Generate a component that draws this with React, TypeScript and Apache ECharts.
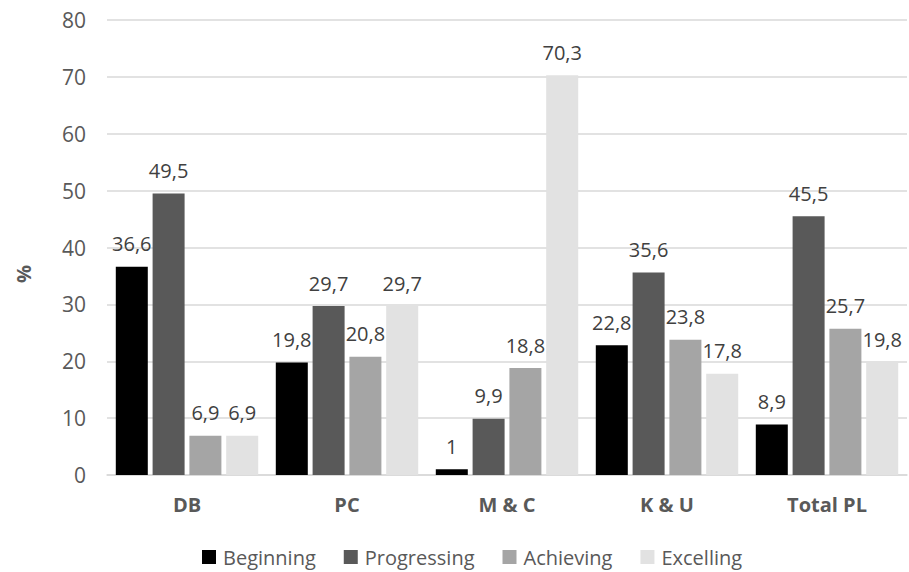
import React, { useEffect, useRef } from "react";
import * as echarts from "echarts";

const categories = ["DB", "PC", "M & C", "K & U", "Total PL"];
const beginning = [36.6, 19.8, 1, 22.8, 8.9];
const progressing = [49.5, 29.7, 9.9, 35.6, 45.5];
const achieving = [6.9, 20.8, 18.8, 23.8, 25.7];
const excelling = [6.9, 29.7, 70.3, 17.8, 19.8];
const seriesNames = ["Beginning", "Progressing", "Achieving", "Excelling"];
const seriesColors = ["#000000", "#595959", "#a5a5a5", "#e2e2e2"];

const FONT = "'Open Sans', 'Noto Sans', sans-serif";

export default function App() {
  const ref = useRef<HTMLDivElement>(null);
  useEffect(() => {
    if (!ref.current) return;
    const chart = echarts.init(ref.current, undefined, { renderer: "svg" });
    const data = [beginning, progressing, achieving, excelling];
    chart.setOption({
      animation: false,
      textStyle: { fontFamily: FONT },
      grid: { left: 107, right: 2, top: 20, bottom: 97, containLabel: false },
      legend: {
        left: 197,
        top: 542,
        itemWidth: 14,
        itemHeight: 14,
        itemGap: 28,
        icon: "rect",
        textStyle: { fontFamily: FONT, fontSize: 20, color: "#595959", padding: [0, 0, 0, 2] },
        data: seriesNames,
      },
      graphic: [
        {
          type: "text",
          x: 23,
          y: 274,
          rotation: Math.PI / 2,
          style: {
            text: "%",
            fontFamily: FONT,
            fontSize: 20,
            fontWeight: "bold",
            fill: "#595959",
            align: "center",
            verticalAlign: "middle",
          },
        },
      ],
      xAxis: {
        type: "category",
        data: categories,
        axisLine: { show: true, lineStyle: { color: "#d9d9d9", width: 1.5 } },
        axisTick: { show: false },
        axisLabel: { fontFamily: FONT, fontSize: 20, fontWeight: "bold", color: "#595959", margin: 19 },
      },
      yAxis: {
        type: "value",
        min: 0,
        max: 80,
        interval: 10,
        axisLine: { show: false },
        axisTick: { show: false },
        axisLabel: { fontFamily: FONT, fontSize: 21, color: "#595959", margin: 21 },
        splitLine: { lineStyle: { color: "#d9d9d9", width: 1.5 } },
      },
      series: seriesNames.map((name, i) => ({
        name,
        type: "bar",
        data: data[i],
        barGap: "15%",
        barCategoryGap: "11%",
        itemStyle: { color: seriesColors[i] },
        label: {
          show: true,
          position: "top",
          distance: 13,
          fontFamily: FONT,
          fontSize: 20,
          color: "#404040",
          formatter: (p: any) => String(p.value).replace(".", ","),
        },
      })),
    });
    return () => chart.dispose();
  }, []);
  return (
    <div
      ref={ref}
      style={{ position: "fixed", left: 0, top: 0, width: 909, height: 572, background: "#ffffff" }}
    />
  );
}
